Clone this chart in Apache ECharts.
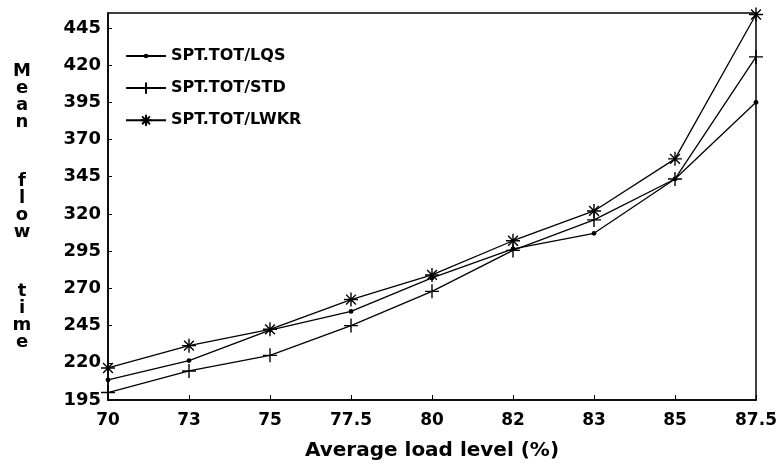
<!DOCTYPE html>
<html>
<head>
<meta charset="utf-8">
<script src="https://cdn.jsdelivr.net/npm/echarts@6/dist/echarts.min.js"></script>
<style>
	html, body { margin: 0; padding: 0; background: #fff; }
	#chart { width: 778px; height: 463px; }
</style>
</head>
<body>
<div id="chart"></div>
<script>
// load levels (x categories)
const loadLevels = ["70", "73", "75", "77.5", "80", "82", "83", "85", "87.5"];
// mean flow time per rule
const lqs = [208.5, 221.5, 242, 254.5, 277, 296.5, 307, 343.5, 395];
const std = [200, 214.5, 225, 245, 268, 295.5, 316, 343.5, 425.5];
const lwkr = [216.5, 231.5, 242.5, 262.5, 279, 302, 322, 357, 454];
const seriesNames = ["SPT.TOT/LQS", "SPT.TOT/STD", "SPT.TOT/LWKR"];

const font = "DejaVu Sans";
// small dot inside an empty 10x10 box, so the legend draws it small too
const dotPath = "path://M0,0M10,10M5,3A2,2 0 1,1 5,7A2,2 0 1,1 5,3Z";
const plusPath = "path://M0,5L10,5M5,0L5,10";
const starPath = "path://M0,5L10,5M5,0L5,10M1.5,1.5L8.5,8.5M8.5,1.5L1.5,8.5";

function lineSeries(name, data, symbol, size, filled) {
	return {
		name: name,
		type: "line",
		data: data,
		symbol: symbol,
		symbolSize: size,
		showAllSymbol: true,
		lineStyle: { color: "#000", width: 1.3 },
		itemStyle: { color: filled ? "#000" : "none", borderColor: "#000", borderWidth: filled ? 0 : 1.4 },
		emphasis: { disabled: true },
		animation: false,
	};
}

let myChart = echarts.init(document.getElementById("chart"));
let option = {
	backgroundColor: "#fff",
	animation: false,
	grid: {
		left: 108,
		right: 22,
		top: 13,
		bottom: 63,
		outerBoundsMode: "none",
		show: true,
		borderColor: "#000",
		borderWidth: 1.5,
	},
	legend: {
		orient: "vertical",
		left: 120,
		top: 43,
		itemWidth: 40,
		itemHeight: 14,
		itemGap: 16,
		data: seriesNames,
		textStyle: { fontFamily: font, fontWeight: "bold", fontSize: 16, color: "#000" },
	},
	xAxis: {
		type: "category",
		data: loadLevels,
		boundaryGap: false,
		name: "Average load level (%)",
		nameLocation: "middle",
		nameGap: 41,
		nameTextStyle: { fontFamily: font, fontWeight: "bold", fontSize: 20, color: "#000" },
		axisLine: { lineStyle: { color: "#000", width: 1.5 } },
		axisTick: { inside: true, length: 5, lineStyle: { color: "#000" } },
		axisLabel: { margin: 12, fontFamily: font, fontWeight: "bold", fontSize: 17, color: "#000" },
		splitLine: { show: false },
	},
	yAxis: {
		type: "value",
		min: 195,
		max: 455,
		interval: 25,
		name: "M\ne\na\nn\n{g| }\nf\nl\no\nw\n{g| }\nt\ni\nm\ne",
		nameLocation: "middle",
		nameRotate: 0,
		nameGap: 86,
		nameTextStyle: {
			fontFamily: font,
			fontWeight: "bold",
			fontSize: 18,
			color: "#000",
			align: "center",
			verticalAlign: "middle",
			lineHeight: 17,
			rich: { g: { lineHeight: 42, fontSize: 10 } },
		},
		axisLine: { show: true, lineStyle: { color: "#000", width: 1.5 } },
		axisTick: { show: true, inside: true, length: 4, lineStyle: { color: "#000" } },
		axisLabel: { margin: 7, showMaxLabel: false, fontFamily: font, fontWeight: "bold", fontSize: 18, color: "#000" },
		splitLine: { show: false },
	},
	series: [
		lineSeries(seriesNames[0], lqs, dotPath, 12, true),
		lineSeries(seriesNames[1], std, plusPath, [14, 14], false),
		lineSeries(seriesNames[2], lwkr, starPath, 14, false),
	],
};
myChart.setOption(option);
</script>
</body>
</html>
